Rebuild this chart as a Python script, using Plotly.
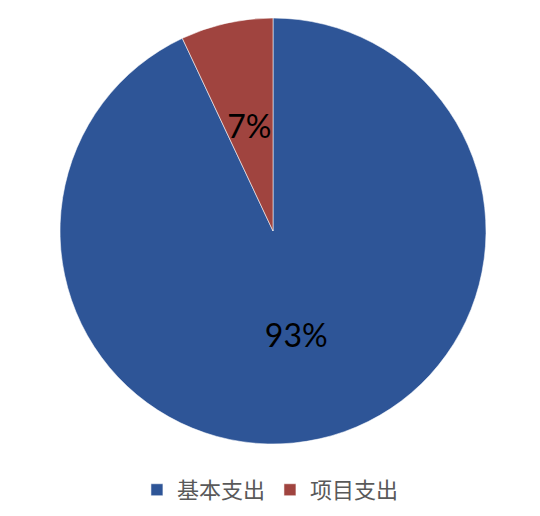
import plotly.graph_objects as go

categories = ["基本支出", "项目支出"]
values = [93, 7]
colors = ["#2E5597", "#A0443F"]

cx, cy, r = 265, 223, 213
W, H = 540, 516

def dom(rad):
    return dict(x=[(cx - rad) / W, (cx + rad) / W], y=[1 - (cy + rad) / H, 1 - (cy - rad) / H])

font_lbl = dict(family="Lato, Open Sans, sans-serif", size=32, color="#000000")

fig = go.Figure()
fig.add_trace(go.Pie(
    labels=categories,
    values=values,
    sort=False,
    direction="clockwise",
    rotation=0,
    marker=dict(colors=colors, line=dict(color="rgba(255,255,255,0.55)", width=1)),
    texttemplate=["%{percent:.0%}", ""],
    textposition=["inside", "none"],
    insidetextorientation="horizontal",
    textfont=font_lbl,
    domain=dom(r),
    hoverinfo="label+percent",
))
# transparent overlay used only to place the small slice's label nearer the centre
fig.add_trace(go.Pie(
    labels=categories,
    values=values,
    sort=False,
    direction="clockwise",
    rotation=0,
    marker=dict(colors=["rgba(0,0,0,0)", "rgba(0,0,0,0)"], line=dict(width=0)),
    texttemplate=["", "%{percent:.0%}"],
    textposition=["none", "inside"],
    insidetextorientation="horizontal",
    textfont=font_lbl,
    domain=dom(132),
    hoverinfo="skip",
    showlegend=False,
))

fig.update_layout(
    width=W, height=H,
    margin=dict(l=0, r=0, t=0, b=0),
    paper_bgcolor="white",
    plot_bgcolor="white",
    showlegend=True,
    legend=dict(
        orientation="h",
        x=0.486, xanchor="center",
        y=0.066, yanchor="middle",
        font=dict(family="Noto Sans CJK SC", size=22, color="#595959"),
        itemwidth=30,
        tracegroupgap=0,
    ),
    uniformtext=dict(minsize=32, mode="show"),
)

fig.write_html("out.html")
